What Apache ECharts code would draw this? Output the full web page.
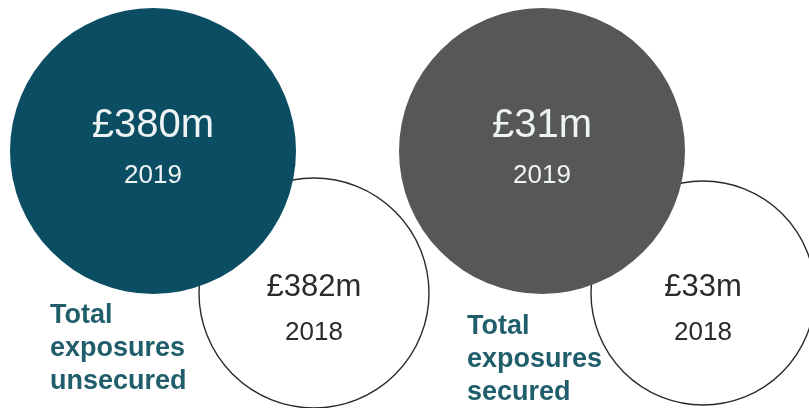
<!DOCTYPE html>
<html>
<head>
<meta charset="utf-8">
<script src="https://cdn.jsdelivr.net/npm/echarts@6/dist/echarts.min.js"></script>
<style>
  html, body { margin: 0; padding: 0; background: #ffffff; }
  #chart { width: 809px; height: 408px; }
</style>
</head>
<body>
<div id="chart"></div>
<script>
// ---- data ----
const groups = ['Total\nexposures\nunsecured', 'Total\nexposures\nsecured'];
const years = ['2019', '2018'];
const values2019 = [380, 31];
const values2018 = [382, 33];

// ---- style ----
const FONT = '"Liberation Sans", Arial, sans-serif';
const fill2019 = ['#0b4e64', '#575757'];
const size2019 = 286;
const size2018 = [230, 224];
const labelColor = '#215e6c';

const chart = echarts.init(document.getElementById('chart'), null, { renderer: 'canvas' });

function makeData(values, year) {
  return values.map((v, i) => ({ value: [i, 0], amount: v, year: year }));
}

const option = {
  backgroundColor: '#ffffff',
  animation: false,
  grid: { left: 234, right: 186, top: 36, bottom: 0 },
  xAxis: {
    type: 'category', data: groups, boundaryGap: false, show: false
  },
  yAxis: { type: 'value', min: -1, max: 1, show: false },
  series: [
    {
      name: years[1],
      type: 'scatter',
      z: 2,
      data: makeData(values2018, years[1]),
      symbol: 'circle',
      symbolSize: (val, p) => size2018[p.dataIndex],
      symbolOffset: [80, 71],
      itemStyle: { color: '#ffffff', borderColor: '#2a2a2a', borderWidth: 1.4, opacity: 1 },
      label: {
        show: true, position: 'inside', offset: [0, 17],
        formatter: p => '{a|£' + p.data.amount + 'm}\n{b|' + p.data.year + '}',
        rich: {
          a: { fontFamily: FONT, fontSize: 31, color: '#2b2b2b', lineHeight: 46, align: 'center' },
          b: { fontFamily: FONT, fontSize: 26, color: '#2b2b2b', lineHeight: 46, align: 'center' }
        }
      },
      emphasis: { disabled: true }
    },
    {
      name: years[0],
      type: 'scatter',
      z: 3,
      data: makeData(values2019, years[0]),
      symbol: 'circle',
      symbolSize: size2019,
      symbolOffset: [-81, -71],
      itemStyle: { color: p => fill2019[p.dataIndex], opacity: 1 },
      label: {
        show: true, position: 'inside', offset: [0, 0],
        formatter: p => '{a|£' + p.data.amount + 'm}\n{b|' + p.data.year + '}',
        rich: {
          a: { fontFamily: FONT, fontSize: 40, color: '#eef4f4', lineHeight: 50, align: 'center' },
          b: { fontFamily: FONT, fontSize: 26, color: '#eef4f4', lineHeight: 50, align: 'center' }
        }
      },
      emphasis: { disabled: true }
    }
  ],
  graphic: [
    {
      type: 'text', left: 50, top: 299, z: 10,
      style: { text: groups[0], fontFamily: FONT, fontWeight: 'bold', fontSize: 27, lineHeight: 33, fill: labelColor }
    },
    {
      type: 'text', left: 467, top: 310, z: 10,
      style: { text: groups[1], fontFamily: FONT, fontWeight: 'bold', fontSize: 27, lineHeight: 33, fill: labelColor }
    }
  ]
};

chart.setOption(option);
</script>
</body>
</html>
